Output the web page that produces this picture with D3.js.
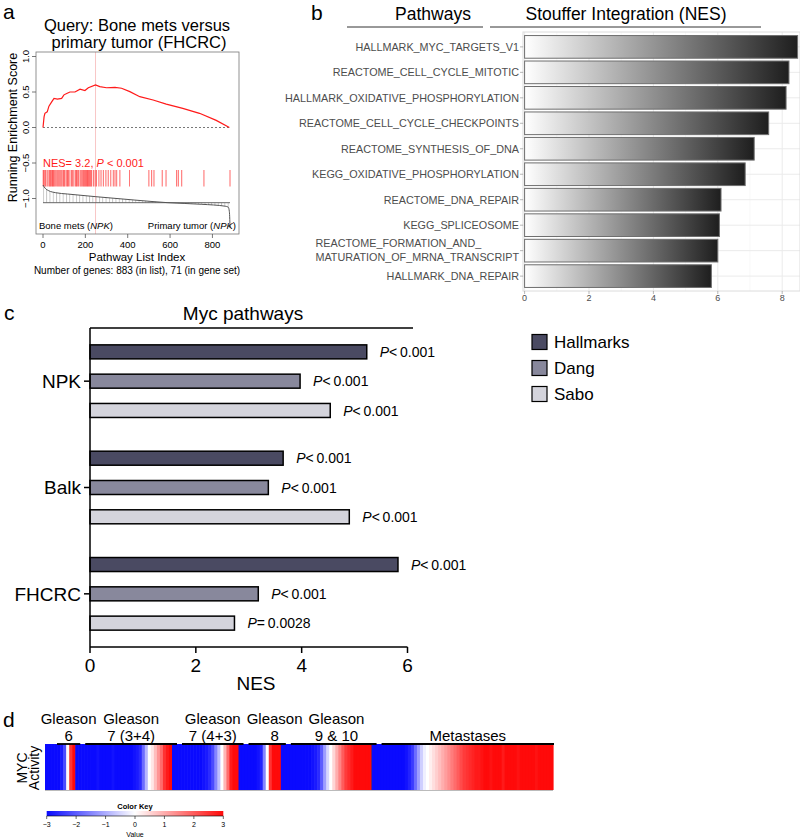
<!DOCTYPE html>
<html><head><meta charset="utf-8">
<script src="https://cdn.jsdelivr.net/npm/d3@7"></script>
<style>
body{margin:0;background:#fff}
svg{display:block;font-family:"Liberation Sans",Arial,Helvetica,sans-serif}
</style>
</head><body>
<svg id="fig" width="800" height="840"></svg>
<script>
// ---------- Panel a data ----------
const esIndex = [0,5,9,20,28,41,52,68,88,99,112,127,151,175,198,214,248,268,300,340,371,410,457,520,582,660,739,818,880];
const esValue = [0,0.15,0.20,0.22,0.30,0.36,0.41,0.40,0.41,0.46,0.48,0.50,0.50,0.54,0.52,0.56,0.60,0.575,0.56,0.565,0.553,0.505,0.434,0.387,0.33,0.27,0.20,0.10,0];
const hitIndex = [1,4,9,13,20,28,32,36,41,45,49,53,58,65,70,75,80,85,90,96,100,104,112,116,120,127,135,140,146,153,158,162,168,175,180,185,190,194,198,202,206,210,214,218,222,226,230,238,246,253,264,274,285,297,308,320,332,340,348,363,408,500,513,524,563,581,631,639,655,760,883];
const metricIndex = [0,10,27,60,115,250,430,590,750,860,875,880,882,883];
const metricValue = [1.77,1.45,1.2,1.0,0.87,0.6,0.27,0.0,-0.16,-0.35,-0.45,-0.9,-1.7,-2.5];
const peakIndex = 248;
const aXTicks = [0,200,400,600,800];
const aYTicks = [1.0,0.5,0.0,-0.5,-1.0];

// ---------- Panel b data ----------
const pathwayNames = ["HALLMARK_MYC_TARGETS_V1","REACTOME_CELL_CYCLE_MITOTIC","HALLMARK_OXIDATIVE_PHOSPHORYLATION","REACTOME_CELL_CYCLE_CHECKPOINTS","REACTOME_SYNTHESIS_OF_DNA","KEGG_OXIDATIVE_PHOSPHORYLATION","REACTOME_DNA_REPAIR","KEGG_SPLICEOSOME","REACTOME_FORMATION_AND_\nMATURATION_OF_MRNA_TRANSCRIPT","HALLMARK_DNA_REPAIR"];
const pathwayNES = [8.48,8.21,8.12,7.58,7.13,6.85,6.10,6.05,6.00,5.80];
const bTicks = [0,2,4,6,8];
const bMinor = [1,3,5,7];

// ---------- Panel c data ----------
const cohorts = ["NPK","Balk","FHCRC"];
const signatures = ["Hallmarks","Dang","Sabo"];
const nesHallmarks = [5.23,3.65,5.82];
const nesDang = [3.97,3.37,3.18];
const nesSabo = [4.54,4.90,2.73];
const pHallmarks = ["< 0.001","< 0.001","< 0.001"];
const pDang = ["< 0.001","< 0.001","< 0.001"];
const pSabo = ["< 0.001","< 0.001","= 0.0028"];
const cTicks = [0,2,4,6];
const sigColors = ["#4a4a62","#88889c","#d4d4dc"];

// ---------- Panel d data ----------
const groupLine1 = ["Gleason","Gleason","Gleason","Gleason","Gleason",""];
const groupLine2 = ["6","7 (3+4)","7 (4+3)","8","9 & 10","Metastases"];
const mycG6 = [-3,-3,-3,-3,-3,-2.8,-2.2,0.1,2.5,3];
const mycG7a = [-3,-3,-3,-3,-3,-3,-3,-2.9,-3,-3,-3,-3,-2.9,-3,-3,-3,-3,-3,-3,-2.9,-2.8,-2.6,-1.8,-0.9,0,0.3,0.8,1.3,1.8,2.5,2.8,3];
const mycG7b = [-3,-3,-3,-3,-3,-3,-3,-3,-3,-3,-2.9,-2.8,-2.6,-2.2,-1.5,-0.8,0,0.9,1.8,2.8,3,3];
const mycG8 = [-3,-3,-3,-3,-3,-3,-2.9,-2.7,-1.5,0,2.5,3,3,3];
const mycG9 = [-3,-3,-3,-3,-3,-3,-3,-3,-3,-3,-2.9,-2.8,-2.6,-2,-1.2,-0.5,0,0.5,1,1.5,2,2.4,2.6,2.8,3,3,3,3,3,3];
const mycMet = [-3,-3,-3,-3,-3,-3,-3,-3,-3,-3,-3,-2.9,-2.7,-2.4,-1.8,-1.2,-0.6,-0.2,0,0.2,0.4,0.6,0.8,1.0,1.2,1.4,1.6,1.8,2.0,2.2,2.4,2.5,2.6,2.7,2.8,2.8,2.9,3,3,2.9,3,3,3,2.8,3,3,3,3,2.9,3,3,3,3,3,2.9,3,3,3,3,3];
const keyTicks = [-3,-2,-1,0,1,2,3];

// =====================================================
const svg = d3.select("#fig");
const defs = svg.append("defs");

// ---------------- Panel a ----------------
(function(){
  const g = svg.append("g");
  g.append("text").attr("x",3).attr("y",19).attr("font-size",21).text("a");
  g.append("text").attr("x",137).attr("y",30.5).attr("font-size",16.5).attr("text-anchor","middle").text("Query: Bone mets versus");
  g.append("text").attr("x",139).attr("y",48).attr("font-size",16.5).attr("text-anchor","middle").text("primary tumor (FHCRC)");

  const x = d3.scaleLinear().domain([0,883]).range([43,230]);
  const y = d3.scaleLinear().domain([1,-1]).range([56.5,198.5]);
  const m = d3.scaleLinear().domain([0,1]).range([202.7,192.7]);
  const box = {x0:36,x1:239,y0:52,y1:234};

  g.append("line").attr("x1",x(peakIndex)).attr("x2",x(peakIndex)).attr("y1",box.y0).attr("y2",box.y1)
    .attr("stroke","#f6b8b8").attr("stroke-width",0.8);
  g.append("line").attr("x1",x(0)).attr("x2",x(883)).attr("y1",y(0)).attr("y2",y(0))
    .attr("stroke","#555").attr("stroke-width",0.8).attr("stroke-dasharray","2,2");
  const esData = esIndex.map((d,i)=>[d,esValue[i]]);
  g.append("path").datum(esData).attr("fill","none").attr("stroke","#ff1a1a").attr("stroke-width",1.2)
    .attr("d",d3.line().x(d=>x(d[0])).y(d=>y(d[1])));
  const t = g.append("text").attr("x",43).attr("y",166.5).attr("font-size",11).attr("fill","#ff1a1a");
  t.append("tspan").text("NES= 3.2, ");
  t.append("tspan").attr("font-style","italic").text("P");
  t.append("tspan").text(" < 0.001");
  g.selectAll(".hit").data(hitIndex).join("line").attr("class","hit")
    .attr("x1",d=>x(d)).attr("x2",d=>x(d)).attr("y1",170).attr("y2",186.5)
    .attr("stroke","#ff2020").attr("stroke-width",0.8).attr("opacity",0.85);
  const pat = defs.append("pattern").attr("id","hatch").attr("patternUnits","userSpaceOnUse")
    .attr("width",3.3).attr("height",10);
  pat.append("line").attr("x1",0.5).attr("x2",0.5).attr("y1",0).attr("y2",10).attr("stroke","#9a9a9a").attr("stroke-width",0.6);
  const mData = metricIndex.map((d,i)=>[d,metricValue[i]]);
  g.append("path").datum(mData).attr("fill","url(#hatch)")
    .attr("d",d3.area().x(d=>x(d[0])).y0(m(0)).y1(d=>m(d[1])));
  g.append("line").attr("x1",x(0)).attr("x2",x(883)).attr("y1",m(0)).attr("y2",m(0)).attr("stroke","#666").attr("stroke-width",1);
  g.append("path").datum(mData).attr("fill","none").attr("stroke","#555").attr("stroke-width",1)
    .attr("d",d3.line().x(d=>x(d[0])).y(d=>m(d[1])).curve(d3.curveMonotoneX));
  const l1 = g.append("text").attr("x",39).attr("y",229).attr("font-size",9.5);
  l1.append("tspan").text("Bone mets (");
  l1.append("tspan").attr("font-style","italic").text("NPK");
  l1.append("tspan").text(")");
  const l2 = g.append("text").attr("x",236).attr("y",229).attr("font-size",9.5).attr("text-anchor","end");
  l2.append("tspan").text("Primary tumor (");
  l2.append("tspan").attr("font-style","italic").text("NPK");
  l2.append("tspan").text(")");
  g.append("rect").attr("x",box.x0).attr("y",box.y0).attr("width",box.x1-box.x0).attr("height",box.y1-box.y0)
    .attr("fill","none").attr("stroke","#777").attr("stroke-width",0.8);
  aYTicks.forEach(v=>{
    g.append("line").attr("x1",32).attr("x2",box.x0).attr("y1",y(v)).attr("y2",y(v)).attr("stroke","#555").attr("stroke-width",0.8);
    g.append("text").attr("transform",`translate(29,${y(v)}) rotate(-90)`).attr("text-anchor","middle")
      .attr("font-size",9.5).text(d3.format(".1f")(v).replace("-","\u2212"));
  });
  g.append("text").attr("transform",`translate(17,${y(0)}) rotate(-90)`).attr("text-anchor","middle")
    .attr("font-size",12.5).text("Running Enrichment Score");
  aXTicks.forEach(v=>{
    g.append("line").attr("x1",x(v)).attr("x2",x(v)).attr("y1",box.y1).attr("y2",box.y1+4).attr("stroke","#555").attr("stroke-width",0.8);
    g.append("text").attr("x",x(v)).attr("y",box.y1+14).attr("text-anchor","middle").attr("font-size",9.5).text(v);
  });
  g.append("text").attr("x",137).attr("y",261).attr("text-anchor","middle").attr("font-size",11.5).text("Pathway List Index");
  g.append("text").attr("x",137).attr("y",274).attr("text-anchor","middle").attr("font-size",10).text("Number of genes: 883 (in list), 71 (in gene set)");
})();

// ---------------- Panel b ----------------
(function(){
  const g = svg.append("g");
  g.append("text").attr("x",311).attr("y",19.5).attr("font-size",21).text("b");
  g.append("text").attr("x",433).attr("y",20).attr("font-size",17.5).attr("text-anchor","middle").text("Pathways");
  g.append("line").attr("x1",347).attr("x2",483).attr("y1",27).attr("y2",27).attr("stroke","#333").attr("stroke-width",1);
  g.append("text").attr("x",626).attr("y",20).attr("font-size",17.5).attr("text-anchor","middle").text("Stouffer Integration (NES)");
  g.append("line").attr("x1",490).attr("x2",761).attr("y1",27).attr("y2",27).attr("stroke","#333").attr("stroke-width",1);

  const x = d3.scaleLinear().domain([0,8]).range([524.6,782.2]);
  const y = d3.scaleBand().domain(pathwayNames).range([33,290]).paddingInner(0.11).paddingOuter(0.1);
  const p = {x0:523,x1:800,y0:32,y1:291};
  g.append("rect").attr("x",p.x0).attr("y",p.y0).attr("width",p.x1-p.x0).attr("height",p.y1-p.y0).attr("fill","#fff");
  bMinor.forEach(v=>g.append("line").attr("x1",x(v)).attr("x2",x(v)).attr("y1",p.y0).attr("y2",p.y1).attr("stroke","#f4f4f4").attr("stroke-width",0.6));
  bTicks.forEach(v=>g.append("line").attr("x1",x(v)).attr("x2",x(v)).attr("y1",p.y0).attr("y2",p.y1).attr("stroke","#ebebeb").attr("stroke-width",1));
  pathwayNames.forEach(n=>g.append("line").attr("x1",p.x0).attr("x2",p.x1).attr("y1",y(n)+y.bandwidth()/2).attr("y2",y(n)+y.bandwidth()/2).attr("stroke","#ebebeb").attr("stroke-width",1));
  g.append("rect").attr("x",p.x0).attr("y",p.y0).attr("width",p.x1-p.x0).attr("height",p.y1-p.y0).attr("fill","none").attr("stroke","#dcdcdc").attr("stroke-width",1);

  const grad = defs.append("linearGradient").attr("id","barGrad").attr("x1","0").attr("x2","1").attr("y1","0").attr("y2","0");
  grad.append("stop").attr("offset","0").attr("stop-color","#ffffff");
  grad.append("stop").attr("offset","0.5").attr("stop-color","#8e8e8e");
  grad.append("stop").attr("offset","1").attr("stop-color","#1e1e1e");

  g.selectAll(".bbar").data(pathwayNames).join("rect").attr("class","bbar")
    .attr("x",x(0)).attr("y",d=>y(d)).attr("height",y.bandwidth())
    .attr("width",(d,i)=>x(pathwayNES[i])-x(0))
    .attr("fill","url(#barGrad)").attr("stroke","#6e6e6e").attr("stroke-width",1);

  pathwayNames.forEach(n=>{
    const cy = y(n)+y.bandwidth()/2;
    g.append("line").attr("x1",p.x0-3).attr("x2",p.x0).attr("y1",cy).attr("y2",cy).attr("stroke","#888").attr("stroke-width",0.6);
    const parts = n.split("\n");
    if(parts.length===1){
      g.append("text").attr("x",519).attr("y",cy).attr("dy","0.36em").attr("text-anchor","end")
        .attr("font-size",10.8).attr("fill","#4d4d4d").text(n);
    } else {
      const t2 = g.append("text").attr("x",519).attr("y",cy+6.5).attr("dy","0.36em").attr("text-anchor","end")
        .attr("font-size",10.8).attr("fill","#4d4d4d").text(parts[1]);
      const w = t2.node().getComputedTextLength();
      g.append("text").attr("x",519-w).attr("y",cy-7.5).attr("dy","0.36em")
        .attr("font-size",10.8).attr("fill","#4d4d4d").text(parts[0]);
    }
  });
  bTicks.forEach(v=>{
    g.append("line").attr("x1",x(v)).attr("x2",x(v)).attr("y1",p.y1).attr("y2",p.y1+3).attr("stroke","#888").attr("stroke-width",0.6);
    g.append("text").attr("x",x(v)).attr("y",p.y1+10).attr("text-anchor","middle").attr("font-size",9).attr("fill","#4d4d4d").text(v);
  });
})();

// ---------------- Panel c ----------------
(function(){
  const g = svg.append("g");
  g.append("text").attr("x",4).attr("y",320).attr("font-size",21).text("c");
  g.append("text").attr("x",243).attr("y",320).attr("font-size",19).attr("text-anchor","middle").text("Myc pathways");
  const x = d3.scaleLinear().domain([0,6]).range([90,407.5]);
  const y = d3.scaleBand().domain(cohorts).range([328,647]);
  const yi = d3.scalePoint().domain(signatures).range([-29.3,29.3]);
  const vals = [nesHallmarks,nesDang,nesSabo];
  const pv = [pHallmarks,pDang,pSabo];
  g.append("line").attr("x1",90).attr("x2",413).attr("y1",328).attr("y2",328).attr("stroke","#000").attr("stroke-width",1.3);

  cohorts.forEach((c,ci)=>{
    const cc = y(c)+y.bandwidth()/2;
    signatures.forEach((s,si)=>{
      const v = vals[si][ci];
      const by = cc+yi(s);
      g.append("rect").attr("x",x(0)).attr("y",by-7).attr("width",x(v)-x(0)).attr("height",14)
        .attr("fill",sigColors[si]).attr("stroke","#000").attr("stroke-width",1.5);
      const t = g.append("text").attr("x",x(v)+13).attr("y",by).attr("dy","0.36em").attr("font-size",14);
      t.append("tspan").attr("font-style","italic").text("P");
      t.append("tspan").text(pv[si][ci].replace(/ /g,"\u2009"));
    });
    g.append("line").attr("x1",84).attr("x2",90).attr("y1",cc).attr("y2",cc).attr("stroke","#000").attr("stroke-width",1.5);
    g.append("text").attr("x",81).attr("y",cc).attr("dy","0.36em").attr("text-anchor","end").attr("font-size",19).text(c);
  });
  g.append("line").attr("x1",90).attr("x2",90).attr("y1",328).attr("y2",647).attr("stroke","#000").attr("stroke-width",1.5);
  g.append("line").attr("x1",90).attr("x2",x(6)).attr("y1",647).attr("y2",647).attr("stroke","#000").attr("stroke-width",1.5);
  cTicks.forEach(v=>{
    g.append("line").attr("x1",x(v)).attr("x2",x(v)).attr("y1",647).attr("y2",653).attr("stroke","#000").attr("stroke-width",1.5);
    g.append("text").attr("x",x(v)).attr("y",671.5).attr("text-anchor","middle").attr("font-size",19).text(v);
  });
  g.append("text").attr("x",256).attr("y",690).attr("text-anchor","middle").attr("font-size",19).text("NES");

  signatures.forEach((s,si)=>{
    const ly = 342 + si*26;
    g.append("rect").attr("x",532).attr("y",ly-7.5).attr("width",15).attr("height",15)
      .attr("fill",sigColors[si]).attr("stroke","#000").attr("stroke-width",1.2);
    g.append("text").attr("x",554).attr("y",ly).attr("dy","0.36em").attr("font-size",17).text(s);
  });
})();

// ---------------- Panel d ----------------
(function(){
  const g = svg.append("g");
  g.append("text").attr("x",3).attr("y",727).attr("font-size",21).text("d");
  const groups = [mycG6,mycG7a,mycG7b,mycG8,mycG9,mycMet];
  const cols = [];
  groups.forEach((arr,gi)=>arr.forEach((v,j)=>cols.push({id:gi+"_"+j,g:gi,v:v})));
  const x = d3.scaleBand().domain(cols.map(d=>d.id)).range([45,553]).paddingInner(0).paddingOuter(0);
  const color = d3.scaleLinear().domain([-3,0,3]).range(["#0a0aff","#ffffff","#ff0a0a"]).clamp(true);
  const top = 744, bot = 790;
  g.selectAll(".cell").data(cols).join("rect").attr("class","cell")
    .attr("x",d=>x(d.id)).attr("y",top).attr("width",x.bandwidth()+0.6).attr("height",bot-top)
    .attr("fill",d=>color(d.v));
  g.append("line").attr("x1",45).attr("x2",553).attr("y1",bot+0.5).attr("y2",bot+0.5).attr("stroke","#bbb").attr("stroke-width",1.2);
  const metStart = x(cols.find(d=>d.g===5).id);
  g.append("line").attr("x1",metStart).attr("x2",metStart).attr("y1",top).attr("y2",bot).attr("stroke","#444").attr("stroke-width",0.6).attr("opacity",0.6);
  let prevRight = -Infinity;
  groups.forEach((arr,gi)=>{
    const members = cols.filter(d=>d.g===gi);
    const x0 = x(members[0].id), x1 = x(members[members.length-1].id)+x.bandwidth();
    const lx0 = x0 + (gi===0?12:10), lx1 = Math.min(x1 + 5, 554);
    g.append("line").attr("x1",lx0).attr("x2",lx1).attr("y1",top).attr("y2",top).attr("stroke","#000").attr("stroke-width",1.8);
    let cx = (lx0+lx1)/2;
    const tg = g.append("g");
    const a = groupLine1[gi] ? tg.append("text").attr("y",724).attr("text-anchor","middle").attr("font-size",15).text(groupLine1[gi]) : null;
    const b = tg.append("text").attr("y",741).attr("text-anchor","middle").attr("font-size",15).text(groupLine2[gi]);
    const w = Math.max(a ? a.node().getComputedTextLength() : 0, b.node().getComputedTextLength());
    if (cx - w/2 < prevRight + 6) cx = prevRight + 6 + w/2;
    prevRight = cx + w/2;
    if (a) a.attr("x",cx);
    b.attr("x",cx);
  });
  g.append("text").attr("transform","translate(22,768) rotate(-90)").attr("text-anchor","middle").attr("dy","0.36em").attr("font-size",14).text("MYC");
  g.append("text").attr("transform","translate(34,768) rotate(-90)").attr("text-anchor","middle").attr("dy","0.36em").attr("font-size",14).text("Activity");

  const kx = d3.scaleLinear().domain([-3,3]).range([46.7,223.3]);
  const kg = defs.append("linearGradient").attr("id","keyGrad").attr("x1","0").attr("x2","1").attr("y1","0").attr("y2","0");
  keyTicks.forEach(v=>kg.append("stop").attr("offset",(v+3)/6).attr("stop-color",color(v)));
  g.append("text").attr("x",135).attr("y",809).attr("text-anchor","middle").attr("font-size",7.5).attr("font-weight","bold").text("Color Key");
  g.append("rect").attr("x",kx(-3)).attr("y",811).attr("width",kx(3)-kx(-3)).attr("height",5).attr("fill","url(#keyGrad)");
  g.append("line").attr("x1",kx(-3)).attr("x2",kx(3)).attr("y1",816).attr("y2",816).attr("stroke","#000").attr("stroke-width",0.6);
  keyTicks.forEach(v=>{
    g.append("line").attr("x1",kx(v)).attr("x2",kx(v)).attr("y1",816).attr("y2",819).attr("stroke","#000").attr("stroke-width",0.6);
    g.append("text").attr("x",kx(v)).attr("y",827).attr("text-anchor","middle").attr("font-size",7).text(String(v).replace("-","\u2212"));
  });
  g.append("text").attr("x",135).attr("y",837).attr("text-anchor","middle").attr("font-size",7).text("Value");
})();
</script>
</body></html>
